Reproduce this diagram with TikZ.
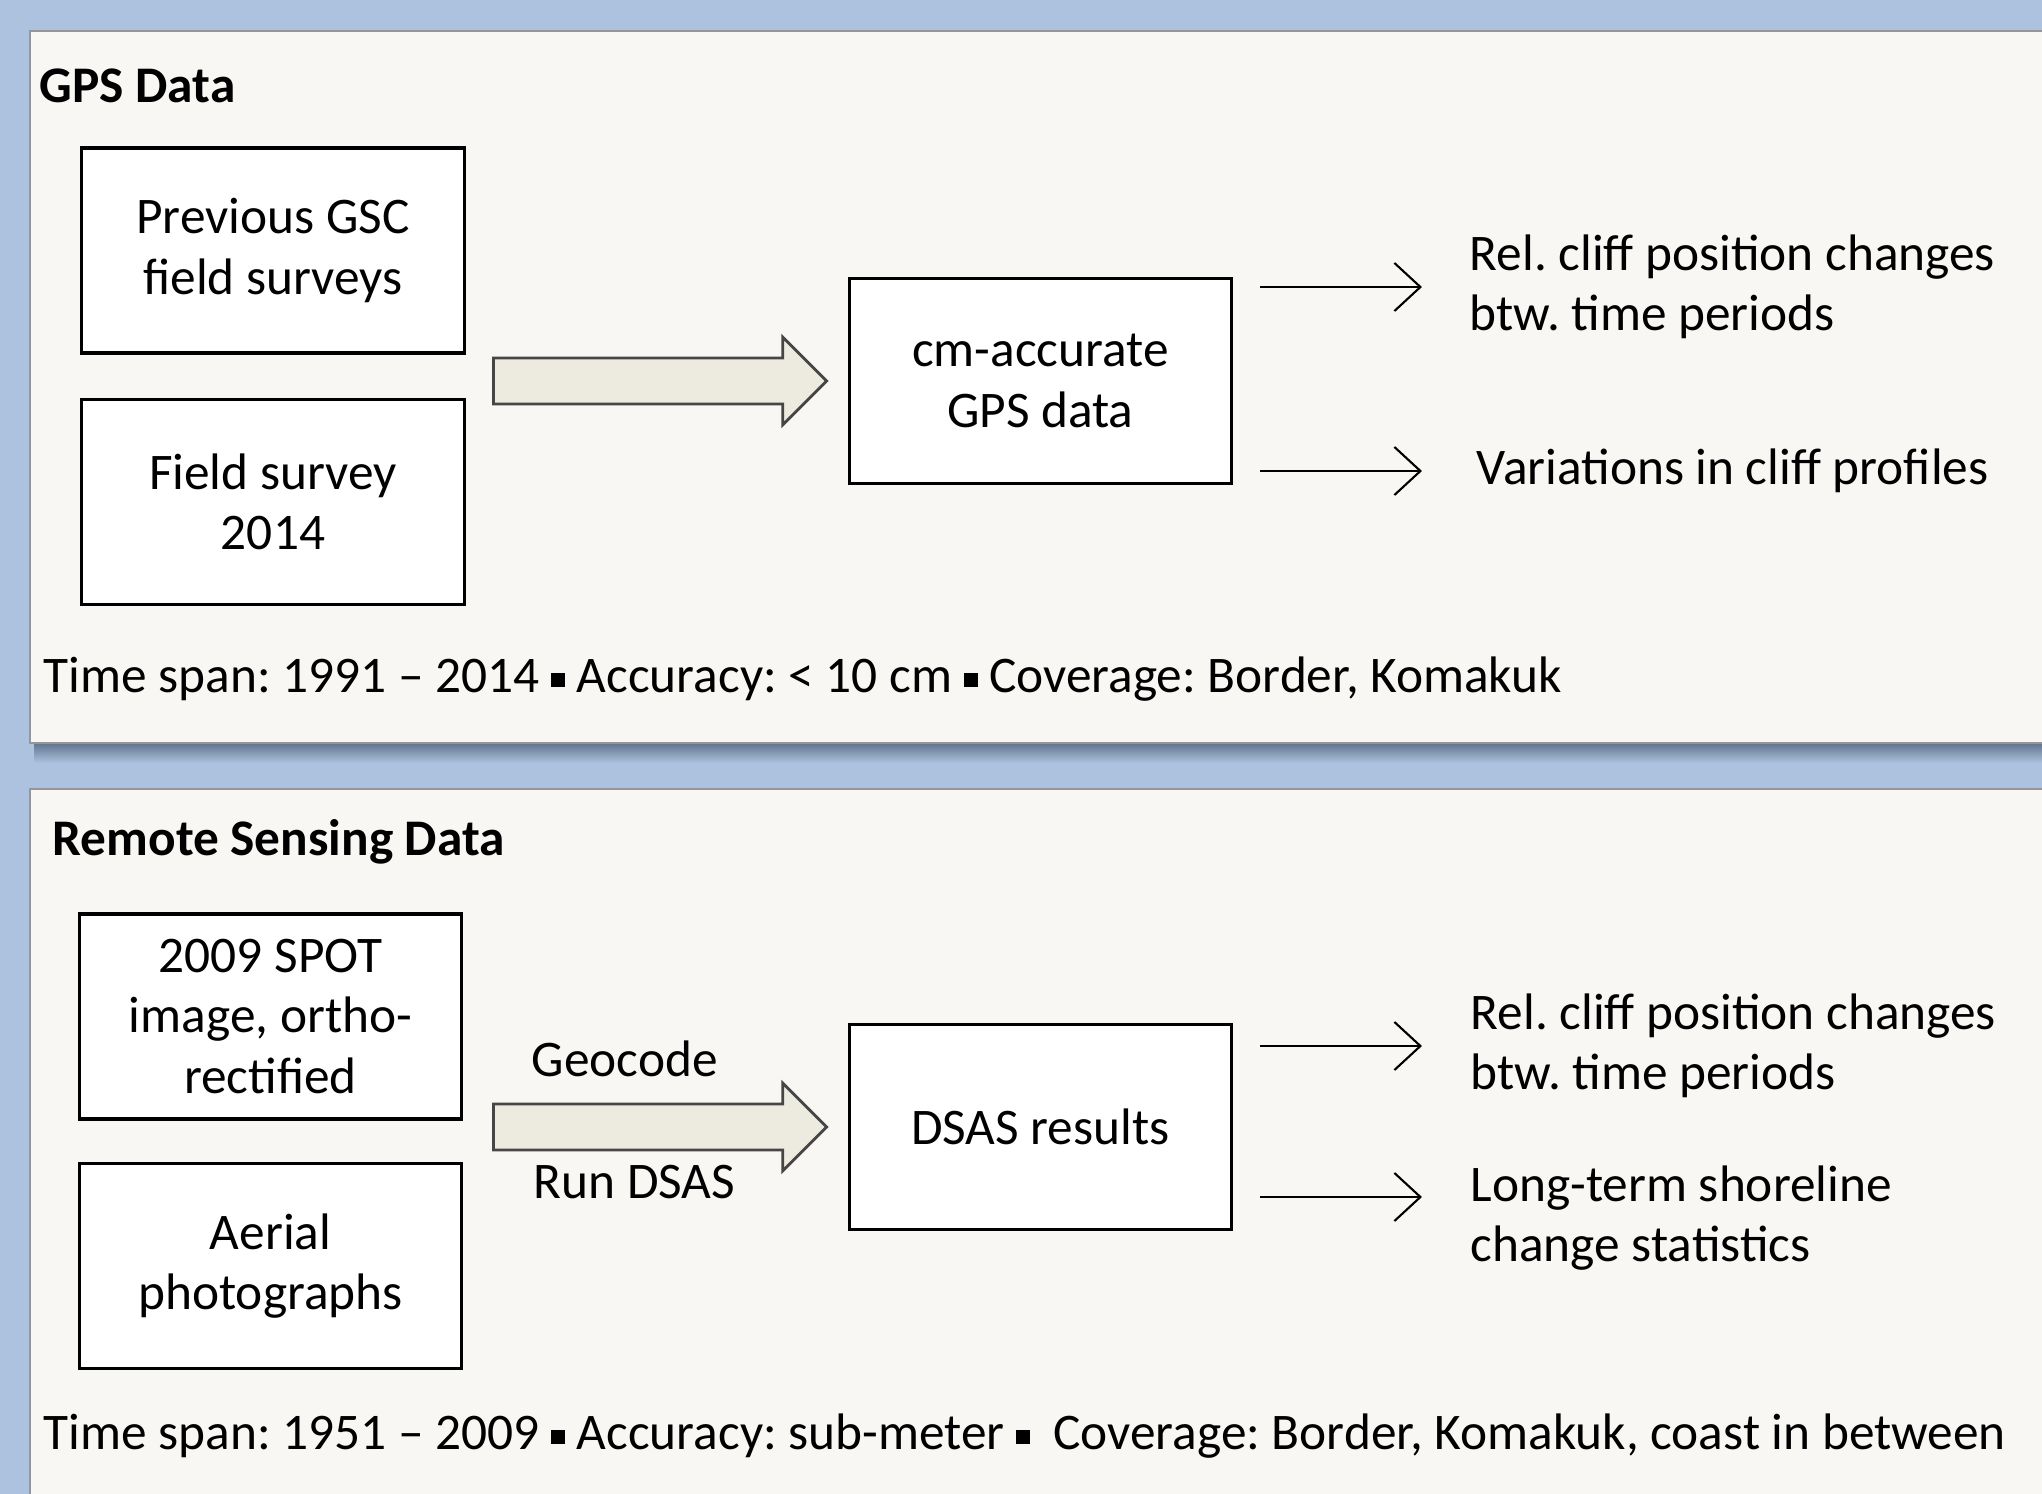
\documentclass[tikz,border=0pt]{standalone}
\usepackage{fontspec}
\setmainfont{Carlito}
\usetikzlibrary{positioning}
\usetikzlibrary{shapes.arrows}
\usetikzlibrary{arrows.meta}

\definecolor{hgblau}{RGB}{173,194,222}
\definecolor{feld}{RGB}{248,247,243}
\definecolor{rand}{RGB}{150,150,150}
\definecolor{schatten}{RGB}{96,116,142}
\definecolor{pfeilfill}{RGB}{237,235,224}
\definecolor{pfeilrand}{RGB}{70,70,70}

\newcommand{\kasten}{\raisebox{0.22ex}{\rule{0.27em}{0.27em}}}
\frenchspacing

\begin{document}
\begin{tikzpicture} [x=0.01cm, y=-0.01cm, font=\fontsize{14.6}{17.1}\selectfont,
        box/.style = {draw, line width=0.9pt, fill=white, align=center, minimum width=3.82cm, minimum height=2.05cm, inner sep=0},
        blockpfeil/.style = {single arrow, draw=pfeilrand, line width=0.8pt, fill=pfeilfill, minimum height=3.33cm, minimum width=0.85cm, single arrow head extend=0.21cm, inner xsep=0, inner ysep=0.215cm},
        txt/.style = {inner sep=0, align=left},
        kopf/.style = {inner sep=0, font=\fontsize{14.6}{17.1}\selectfont\bfseries},
        pfeil/.style = {-{Straight Barb[length=0.26cm, width=0.48cm]}, line width=0.6pt}]
        \useasboundingbox (0,0) rectangle (2042,1494);
        \clip (0,0) rectangle (2042,1494);

        %Rahmen
        \fill[hgblau] (0,0) rectangle (2042,1494);
        \shade[top color=schatten, bottom color=hgblau] (34,743) rectangle (2060,763);
        \draw[rand, fill=feld] (30,31) rectangle (2060,743);
        \draw[rand, fill=feld] (30,789) rectangle (2060,1520);

        %GPS
        \node[kopf, anchor=base west] (t1) at (39,103) {GPS Data};
        \node[box] (prev) at (273,250.5) {Previous GSC\\field surveys};
        \node[box] (feld) [below = 0.43cm of prev] {Field survey\\2014};
        \node[blockpfeil, anchor=tail] (g1) at (492,381) {};
        \node[box] (gps) [right = 0.19cm of g1] {cm-accurate\\GPS data};
        \node[txt, anchor=west] (rel1) at (1469,287) {Rel. cliff position changes\\btw. time periods};
        \node[txt, anchor=west] (var) at (1476,471) {Variations in cliff profiles};
        \node[txt, anchor=base west] (fuss1) at (43,692) {Time span: 1991 -- 2014 \kasten{} Accuracy: < 10 cm \kasten{} Coverage: Border, Komakuk};

        \draw[pfeil, shorten <=0.27cm, shorten >=0.47cm] (gps.east |- rel1.west) -- (rel1.west);
        \draw[pfeil, shorten <=0.27cm, shorten >=0.54cm] (gps.east |- var.west) -- (var.west);

        %Fernerkundung
        \node[kopf, anchor=base west] (t2) at (52,855) {Remote Sensing Data};
        \node[box] (spot) at (270.5,1016.5) {2009 SPOT\\image, ortho-\\rectified};
        \node[box] (luft) [below = 0.41cm of spot] {Aerial\\photographs};
        \node[blockpfeil, anchor=tail] (g2) at (492,1127) {};
        \node[box] (dsas) [right = 0.19cm of g2] {DSAS results};
        \node[txt, anchor=base west] (geo) at (531,1076) {Geocode};
        \node[txt, anchor=base west] (run) at (533,1198) {Run DSAS};
        \node[txt, anchor=west] (rel2) at (1470,1046) {Rel. cliff position changes\\btw. time periods};
        \node[txt, anchor=west] (lang) at (1470,1218) {Long-term shoreline\\change statistics};
        \coordinate (lz) at ([yshift=0.21cm]lang.west);
        \node[txt, anchor=base west] (fuss2) at (43,1449) {Time span: 1951 -- 2009 \kasten{} Accuracy: sub-meter \kasten{}\ \ Coverage: Border, Komakuk, coast in between};

        \draw[pfeil, shorten <=0.27cm, shorten >=0.48cm] (dsas.east |- rel2.west) -- (rel2.west);
        \draw[pfeil, shorten <=0.27cm, shorten >=0.48cm] (dsas.east |- lz) -- (lz);

    \end{tikzpicture}
\end{document}
